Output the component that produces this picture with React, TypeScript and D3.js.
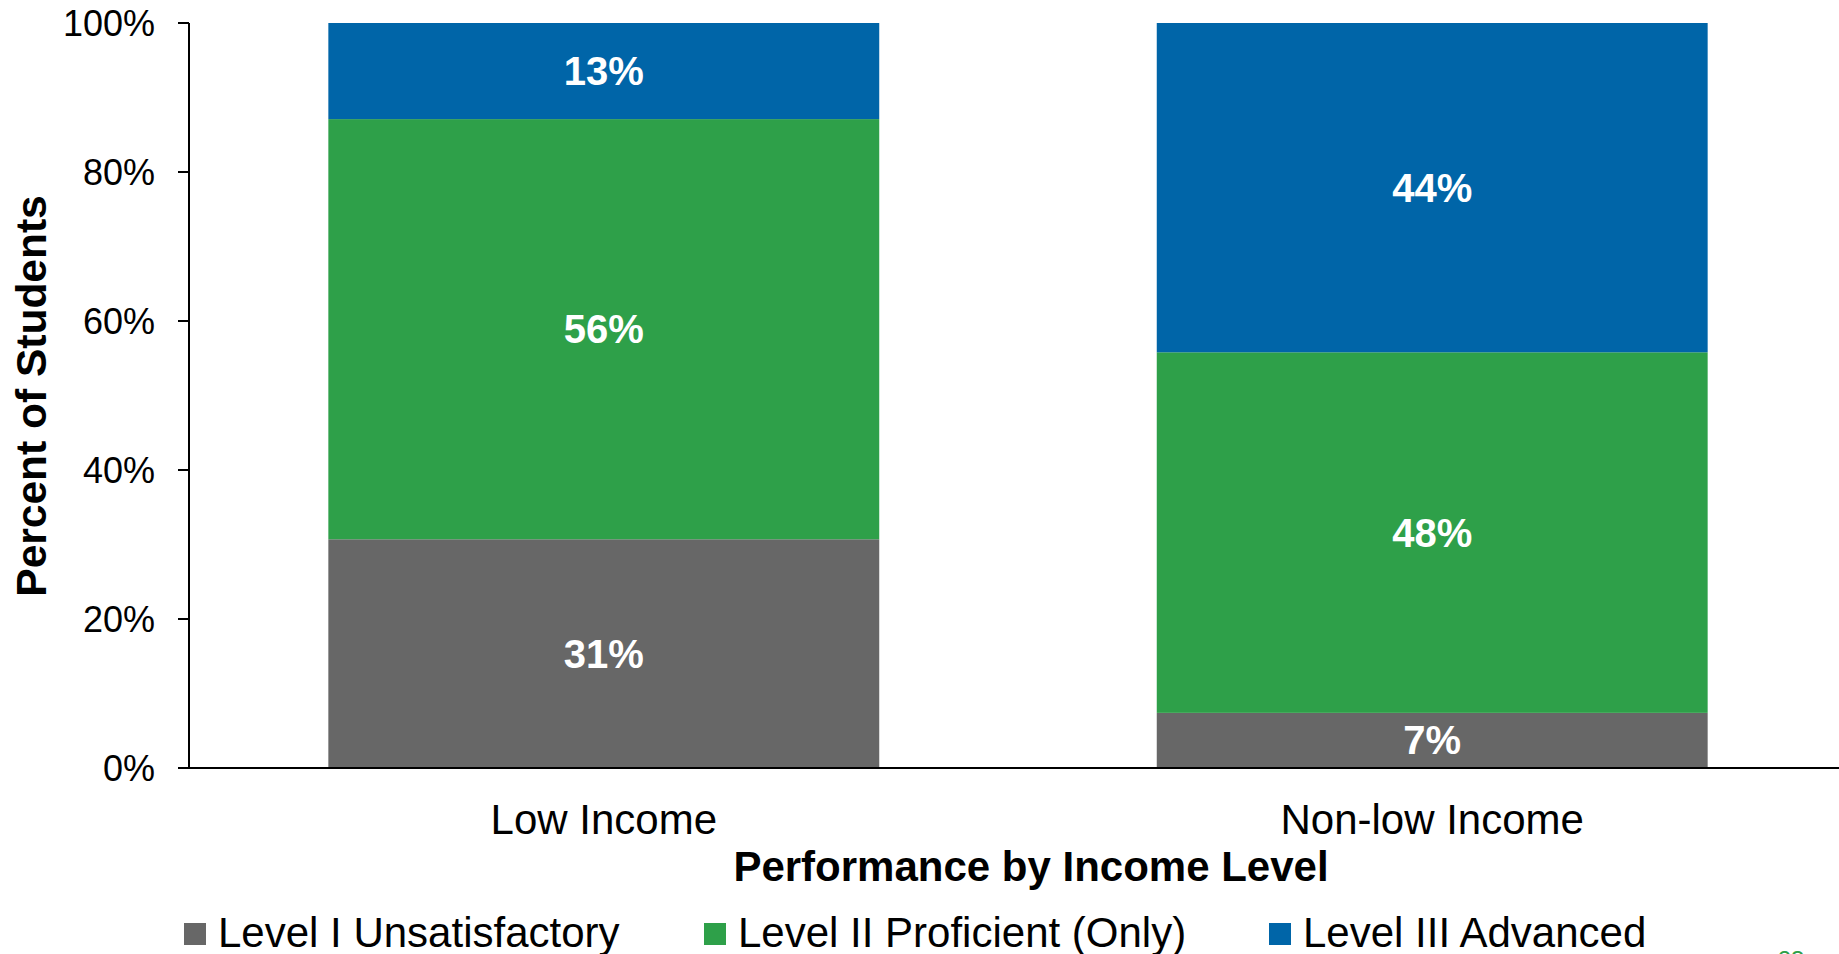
import React from "react";
import * as d3 from "d3";

const categories = ["Low Income", "Non-low Income"];
const seriesNames = ["Level I Unsatisfactory", "Level II Proficient (Only)", "Level III Advanced"];
const seriesColors = ["#676767", "#2ea049", "#0065a8"];
const levelI = [30.7, 7.4];
const levelII = [56.4, 48.4];
const levelIII = [12.9, 44.2];
const yTicks = [0, 20, 40, 60, 80, 100];

const W = 1839;
const H = 954;
const font = "'Liberation Sans', Arial, sans-serif";

export default function App() {
  const x = d3.scaleBand<string>().domain(categories).range([190, 1846]).paddingInner(0.335).paddingOuter(0.167);
  const y = d3.scaleLinear().domain([0, 100]).range([768, 23]);

  const rows = categories.map((c, i) => ({ cat: c, l1: levelI[i], l2: levelII[i], l3: levelIII[i] }));
  const stack = d3.stack<any>().keys(["l1", "l2", "l3"])(rows);

  const legendX = [184, 704, 1269];

  return (
    <svg width={W} height={H} style={{ position: "absolute", left: 0, top: 0, display: "block", background: "#fff" }} fontFamily={font}>
      {stack.map((layer, si) => (
        <g key={si}>
          {layer.map((d, i) => {
            const x0 = x(categories[i])!;
            const yTop = y(d[1]);
            const yBot = y(d[0]);
            const val = d[1] - d[0];
            return (
              <g key={i}>
                <rect x={x0} y={yTop} width={x.bandwidth()} height={yBot - yTop} fill={seriesColors[si]} />
                <text
                  x={x0 + x.bandwidth() / 2}
                  y={(yTop + yBot) / 2 + 14}
                  textAnchor="middle"
                  fill="#fff"
                  fontWeight="bold"
                  fontSize={40}
                >
                  {d3.format(".0f")(val) + "%"}
                </text>
              </g>
            );
          })}
        </g>
      ))}

      {/* Y axis */}
      <line x1={189} x2={189} y1={y(100)} y2={y(0)} stroke="#000" strokeWidth={2} />
      {yTicks.map((t) => (
        <g key={t}>
          <line x1={178} x2={189} y1={y(t)} y2={y(t)} stroke="#000" strokeWidth={2} />
          <text x={155} y={y(t) + 13} textAnchor="end" fontSize={36} fill="#000">
            {t + "%"}
          </text>
        </g>
      ))}
      {/* X axis */}
      <line x1={178} x2={W} y1={y(0)} y2={y(0)} stroke="#000" strokeWidth={2} />
      {categories.map((c) => (
        <text key={c} x={x(c)! + x.bandwidth() / 2} y={834} textAnchor="middle" fontSize={42} fill="#000">
          {c}
        </text>
      ))}

      <text x={1031} y={881} textAnchor="middle" fontSize={42} fontWeight="bold" fill="#000">
        Performance by Income Level
      </text>
      <text transform="translate(46,396) rotate(-90)" textAnchor="middle" fontSize={42.5} fontWeight="bold" fill="#000">
        Percent of Students
      </text>

      {seriesNames.map((s, i) => (
        <g key={s}>
          <rect x={legendX[i]} y={923} width={22} height={22} fill={seriesColors[i]} />
          <text x={legendX[i] + 34} y={947} fontSize={42} fill="#000">
            {s}
          </text>
        </g>
      ))}

      <text x={1791} y={968} textAnchor="middle" fontSize={24} fill="#2ea049">
        23
      </text>
    </svg>
  );
}
